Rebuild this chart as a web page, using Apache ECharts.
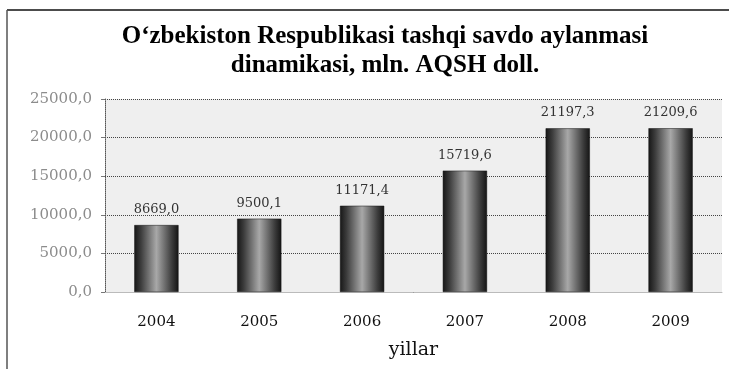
<!DOCTYPE html>
<html>
<head>
<meta charset="utf-8">
<script src="https://cdn.jsdelivr.net/npm/echarts@6/dist/echarts.min.js"></script>
<style>
  html, body { margin: 0; padding: 0; background: #fff; }
  #chart { width: 729px; height: 369px; }
</style>
</head>
<body>
<div id="chart"></div>
<script>
// Foreign trade turnover of Uzbekistan, mln. USD
const years = ['2004', '2005', '2006', '2007', '2008', '2009'];
const turnover = [8669.0, 9500.1, 11171.4, 15719.6, 21197.3, 21209.6];
const yTicks = [0, 5000, 10000, 15000, 20000, 25000];

const fmt = v => v.toFixed(1).replace('.', ',');

// cylinder-like shading across each bar
const barFill = {
  type: 'linear', x: 0, y: 0, x2: 1, y2: 0,
  colorStops: [
    { offset: 0, color: '#161616' },
    { offset: 0.15, color: '#3c3c3c' },
    { offset: 0.5, color: '#a8a8a8' },
    { offset: 0.85, color: '#3c3c3c' },
    { offset: 1, color: '#141414' }
  ]
};

const chart = echarts.init(document.getElementById('chart'), null, { renderer: 'canvas' });
chart.setOption({
  backgroundColor: '#fff',
  animation: false,
  title: {
    text: 'O‘zbekiston Respublikasi tashqi savdo aylanmasi\ndinamikasi, mln. AQSH doll.',
    left: 380, top: 17, textAlign: 'center',
    textStyle: {
      fontFamily: 'Liberation Serif', fontWeight: 'bold', fontSize: 25,
      lineHeight: 29, color: '#000'
    }
  },
  grid: {
    left: 105, right: 7, top: 99, bottom: 77,
    show: true, backgroundColor: '#efefef', borderWidth: 0
  },
  xAxis: {
    type: 'category',
    data: years,
    name: 'yillar',
    nameLocation: 'middle',
    nameGap: 49,
    nameTextStyle: { fontFamily: 'DejaVu Serif', fontSize: 19, color: '#111' },
    axisLine: { lineStyle: { color: '#bbb', width: 1 } },
    axisTick: { show: false },
    axisLabel: { fontFamily: 'DejaVu Serif', fontSize: 15, color: '#111', margin: 23 }
  },
  yAxis: {
    type: 'value',
    min: yTicks[0], max: yTicks[yTicks.length - 1], interval: 5000,
    axisLine: { show: true, lineStyle: { color: '#555', type: 'dotted' } },
    axisTick: { show: true, length: 4, lineStyle: { color: '#777' } },
    axisLabel: {
      fontFamily: 'DejaVu Serif', fontSize: 15, color: '#8c8c8c', margin: 13,
      formatter: v => fmt(v)
    },
    splitLine: { lineStyle: { color: '#444', type: 'dotted', width: 1 } }
  },
  series: [{
    type: 'bar',
    data: turnover,
    barWidth: '43%',
    itemStyle: { color: barFill, borderColor: '#111', borderWidth: 0.5 },
    label: {
      show: true, position: 'top', distance: 9,
      fontFamily: 'DejaVu Serif', fontSize: 13, color: '#333',
      formatter: p => fmt(p.value)
    }
  }],
  graphic: [
    { type: 'line', shape: { x1: 7, y1: 10, x2: 729, y2: 10 }, style: { stroke: '#111', lineWidth: 1.5 } },
    { type: 'line', shape: { x1: 7, y1: 10, x2: 7, y2: 369 }, style: { stroke: '#555', lineWidth: 1.5 } }
  ]
});
</script>
</body>
</html>
